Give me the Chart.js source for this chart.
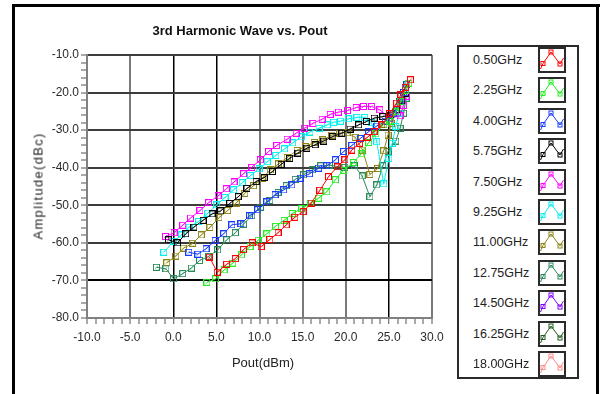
<!DOCTYPE html>
<html>
<head>
<meta charset="utf-8">
<script src="https://cdn.jsdelivr.net/npm/chart.js@4.4.1/dist/chart.umd.min.js"></script>
<style>
  body { margin: 0; width: 603px; height: 394px; background: #fff; position: relative; overflow: hidden;
         font-family: "Liberation Sans", Arial, sans-serif; color: #222; }
  #chart { position: absolute; left: 0; top: 0; }
  .bar { position: absolute; background: #000; }
  #title { position: absolute; left: 0; width: 480px; top: 23px; text-align: center;
           font-weight: bold; font-size: 13px; line-height: 16px; color: #111; }
  #ytitle { position: absolute; left: 38px; top: 186px; white-space: nowrap; font-size: 13px;
            letter-spacing: 1.3px; transform: translate(-50%, -50%) rotate(-90deg); }
  #xtitle { position: absolute; left: 263px; top: 362px; white-space: nowrap; font-size: 13px;
            transform: translate(-50%, -50%); }
  #legend { position: absolute; left: 457px; top: 45px; width: 118px; height: 330px;
            border: 2px solid #2a2a2a; background: #fff; }
  .row { position: absolute; left: 0; width: 118px; height: 26px; }
  .row span { position: absolute; left: 14px; top: 5px; font-size: 12.5px; line-height: 16px; }
  .row svg { position: absolute; left: 79px; top: 0; }
</style>
</head>
<body>
<canvas id="chart" width="450" height="394"></canvas>
<div class="bar" style="left:12px;top:4px;width:588px;height:3px"></div>
<div class="bar" style="left:12px;top:4px;width:3px;height:390px"></div>
<div class="bar" style="left:596px;top:4px;width:3px;height:390px"></div>
<div id="title">3rd Harmonic Wave vs. Pout</div>
<div id="ytitle">Amplitude(dBc)</div>
<div id="xtitle">Pout(dBm)</div>
<div id="legend"></div>
<script>
// Frequencies in the legend, one sweep per frequency
const freqLabels = ["0.50GHz", "2.25GHz", "4.00GHz", "5.75GHz", "7.50GHz", "9.25GHz",
                    "11.00GHz", "12.75GHz", "14.50GHz", "16.25GHz", "18.00GHz"];
const freqColors = ["#ff0000", "#22ee22", "#1a3cff", "#000000", "#ff00ff", "#00f0f0",
                    "#8c8414", "#2a8a5a", "#8000ff", "#1e5a1e", "#ff8a8a"];

// Pout (dBm) / 3rd harmonic (dBc) per sweep
const pout050 = [4.2, 5.1, 6.2, 7.2, 8.15, 9.15, 10.2, 11.2, 12.15, 13.1, 14.1, 15.05, 16.0, 17.0, 18.0,
                 19.0, 19.9, 20.7, 21.6, 22.5, 23.3, 24.2, 25.1, 25.9, 26.4, 26.9, 27.5];
const amp050 = [-63.8, -67.8, -65.7, -64.2, -61.8, -60.0, -61.0, -59.1, -57.3, -55.2, -53.2, -51.7, -49.4, -46.0, -42.4,
                -39.8, -37.9, -35.3, -33.5, -31.9, -30.4, -28.6, -25.6, -22.8, -20.6, -18.6, -16.6];

const pout225 = [3.9, 4.9, 5.9, 6.9, 7.9, 8.9, 9.85, 10.85, 11.85, 12.85, 13.8, 14.9, 15.9, 16.85, 17.8,
                 18.8, 19.7, 20.9, 21.8, 22.65, 23.5, 24.4, 25.2, 25.8, 26.4, 26.9, 27.3];
const amp225 = [-70.5, -69.6, -67.2, -65.4, -63.2, -61.0, -59.3, -57.6, -55.6, -54.0, -52.2, -50.9, -49.4, -48.1, -46.4,
                -43.2, -40.7, -38.6, -36.3, -33.3, -31.0, -28.4, -27.6, -25.1, -22.4, -19.4, -17.5];

const pout400 = [1.8, 2.85, 3.8, 4.85, 5.85, 6.8, 7.85, 8.85, 9.8, 10.85, 11.8, 12.8, 13.75, 14.7, 15.8,
                 16.85, 17.8, 18.8, 19.75, 20.7, 21.7, 22.65, 23.6, 24.6, 25.5, 26.2, 26.7, 27.1];
const amp400 = [-62.5, -63.0, -61.6, -59.4, -57.6, -55.2, -54.9, -52.8, -51.2, -49.1, -47.2, -45.9, -44.6, -42.8, -41.6,
                -40.1, -39.5, -37.9, -35.7, -34.1, -32.2, -30.4, -28.9, -27.6, -25.5, -22.5, -20.0, -17.8];

const pout575 = [-0.55, 0.5, 1.45, 2.4, 3.45, 4.5, 5.5, 6.55, 7.55, 8.55, 9.6, 10.55, 11.5, 12.5, 13.5,
                 14.45, 15.5, 16.45, 17.45, 18.5, 19.55, 20.5, 21.5, 22.4, 23.3, 24.3, 25.2, 25.9, 26.5, 26.9];
const amp575 = [-59.2, -60.0, -57.6, -55.8, -54.0, -52.3, -51.5, -49.5, -47.7, -45.5, -43.7, -42.6, -41.0, -39.1, -37.5,
                -36.1, -34.8, -33.9, -32.9, -31.7, -30.8, -29.7, -28.6, -27.7, -26.8, -26.4, -26.0, -24.6, -22.0, -20.2];

const pout750 = [-0.9, 0.1, 1.1, 2.0, 3.1, 4.1, 5.2, 6.15, 7.05, 8.15, 9.1, 10.1, 11.05, 12.0, 13.2,
                 14.25, 15.2, 16.2, 17.25, 18.2, 19.15, 20.2, 21.2, 22.05, 23.0, 23.95, 25.1, 26.3, 26.7, 27.0];
const amp750 = [-58.3, -57.3, -55.3, -53.4, -51.4, -49.3, -47.5, -45.6, -43.8, -41.6, -39.9, -37.9, -35.7, -34.1, -32.4,
                -30.8, -29.5, -28.2, -27.1, -25.8, -25.2, -24.8, -24.0, -23.7, -23.7, -24.6, -26.8, -26.2, -23.4, -21.0];

const pout925 = [-1.1, 0.05, 0.95, 1.85, 2.95, 4.0, 5.05, 6.0, 7.0, 8.0, 8.95, 9.95, 10.9, 11.9, 12.9,
                 13.85, 14.85, 15.85, 16.9, 17.85, 18.6, 19.4, 20.3, 21.3, 22.2, 23.0, 23.6, 24.4, 25.0, 25.4, 25.8, 26.2];
const amp925 = [-62.5, -59.6, -57.9, -55.8, -54.3, -52.1, -49.9, -47.9, -45.9, -44.0, -42.1, -40.3, -38.4, -36.7, -35.0,
                -33.4, -31.8, -30.5, -29.5, -28.6, -27.9, -27.6, -27.0, -26.6, -26.6, -28.0, -33.1, -44.3, -37.5, -33.5, -29.0, -25.5];

const pout1100 = [-0.75, 0.3, 1.2, 2.25, 3.25, 4.25, 5.3, 6.3, 7.3, 8.3, 9.3, 10.3, 11.25, 12.2, 13.2,
                  14.35, 15.3, 16.35, 17.35, 18.4, 19.3, 20.2, 21.1, 21.95, 22.8, 23.7, 24.4, 24.9, 25.3, 25.8];
const amp1100 = [-65.3, -63.5, -61.4, -60.1, -57.9, -55.9, -53.3, -51.4, -49.4, -46.8, -44.8, -42.8, -40.6, -39.0, -37.3,
                 -35.4, -34.4, -33.3, -32.6, -31.3, -30.8, -30.7, -31.9, -35.3, -41.8, -40.2, -35.5, -31.3, -28.2, -25.5];

const pout1275 = [-1.95, -0.85, 0.05, 1.1, 2.1, 3.05, 4.1, 5.15, 6.2, 7.2, 8.15, 9.1, 10.1, 11.2, 12.15,
                  13.1, 14.15, 15.1, 16.1, 17.1, 18.1, 19.05, 19.9, 21.0, 21.9, 22.8, 23.6, 24.3, 24.9, 25.8, 26.3, 26.7, 27.0];
const amp1275 = [-66.5, -66.9, -69.6, -68.2, -66.7, -64.7, -63.6, -61.9, -59.2, -57.3, -55.0, -52.8, -50.5, -48.7, -46.6,
                 -44.8, -43.1, -41.9, -40.6, -39.5, -39.3, -39.7, -39.9, -39.5, -42.2, -47.7, -44.6, -39.5, -35.7, -32.9, -29.5, -25.5, -21.5];

// 14.50 / 16.25 / 18.00 GHz sweeps carry no points in this run
const pout1450 = [], amp1450 = [];
const pout1625 = [], amp1625 = [];
const pout1800 = [], amp1800 = [];

const sweeps = [
  [pout050, amp050], [pout225, amp225], [pout400, amp400], [pout575, amp575],
  [pout750, amp750], [pout925, amp925], [pout1100, amp1100], [pout1275, amp1275],
  [pout1450, amp1450], [pout1625, amp1625], [pout1800, amp1800],
];

// hollow square with a tiny centre tick, like the instrument's plot markers
function markerImage(color) {
  const c = document.createElement("canvas");
  c.width = 7; c.height = 7;
  const g = c.getContext("2d");
  g.strokeStyle = color;
  g.lineWidth = 1;
  g.strokeRect(0.5, 0.5, 6, 6);
  g.fillStyle = color;
  g.globalAlpha = 0.6;
  g.fillRect(3, 3, 1, 1);
  g.fillRect(2, 4, 1, 1);
  g.fillRect(4, 2, 1, 1);
  return c;
}

const datasets = sweeps.map(([xs, ys], i) => ({
  label: freqLabels[i],
  data: xs.map((x, k) => ({ x, y: ys[k] })),
  showLine: true,
  borderColor: freqColors[i],
  backgroundColor: freqColors[i],
  borderWidth: 1,
  pointStyle: markerImage(freqColors[i]),
  pointRadius: 3,
  tension: 0,
}));

const BLACK_X = [0, 5, 25];
const isMajor = (v, step) => Math.abs(v % step) < 1e-6;

new Chart(document.getElementById("chart"), {
  type: "scatter",
  data: { datasets },
  options: {
    responsive: false,
    devicePixelRatio: 1,
    animation: false,
    layout: { padding: { left: 40, top: 55, right: 18, bottom: 46 } },
    plugins: { legend: { display: false }, tooltip: { enabled: false } },
    scales: {
      x: {
        type: "linear",
        min: -10,
        max: 30,
        afterFit: (s) => { s.height = 30; },
        border: { display: true, color: "#808080", width: 2 },
        grid: {
          color: (ctx) => {
            const v = ctx.tick ? ctx.tick.value : 0;
            if (!isMajor(v, 5)) return "rgba(0,0,0,0)";
            return BLACK_X.includes(v) ? "#000" : "#7a7a7a";
          },
          lineWidth: (ctx) => (ctx.tick && BLACK_X.includes(ctx.tick.value) ? 1.5 : 2),
          tickColor: "#555",
          tickWidth: 1,
          tickLength: 6,
        },
        ticks: {
          stepSize: 1,
          autoSkip: false,
          maxRotation: 0,
          padding: 6,
          color: "#2a2a2a",
          font: { family: "Liberation Sans", size: 12 },
          callback: (v) => (isMajor(v, 5) ? Number(v).toFixed(1) : ""),
        },
      },
      y: {
        type: "linear",
        min: -80,
        max: -10,
        afterFit: (s) => { s.width = 47; },
        border: { display: true, color: "#808080", width: 2 },
        grid: {
          color: (ctx) => {
            const v = ctx.tick ? ctx.tick.value : 0;
            if (!isMajor(v, 10)) return "rgba(0,0,0,0)";
            return v === -70 ? "#000" : "#3c3c3c";
          },
          lineWidth: 2,
          tickColor: "#555",
          tickWidth: 1,
          tickLength: 6,
        },
        ticks: {
          stepSize: 2,
          autoSkip: false,
          padding: 2,
          color: "#2a2a2a",
          font: { family: "Liberation Sans", size: 12 },
          callback: (v) => (isMajor(v, 10) ? Number(v).toFixed(1) : ""),
        },
      },
    },
  },
});

// legend: label plus a little sample trace for each sweep
const legendEl = document.getElementById("legend");
freqLabels.forEach((lab, i) => {
  const c = freqColors[i];
  const row = document.createElement("div");
  row.className = "row";
  row.style.top = (i * 30.4) + "px";
  const sq = (x, y) => `<rect x="${x - 2}" y="${y - 2}" width="4" height="4" fill="none" stroke="${c}" stroke-width="1"/>`;
  row.innerHTML =
    `<span>${lab}</span>` +
    `<svg width="28" height="26" viewBox="0 0 28 26">` +
    `<rect x="1" y="1" width="26" height="24" fill="#fff" stroke="#2a2a2a" stroke-width="2"/>` +
    `<polyline points="2.5,22 5,16.5 13,5 22,17 25.5,11" fill="none" stroke="${c}" stroke-width="1"/>` +
    sq(5, 16.5) + sq(13, 5) + sq(22, 17) +
    `</svg>`;
  legendEl.appendChild(row);
});
</script>
</body>
</html>
